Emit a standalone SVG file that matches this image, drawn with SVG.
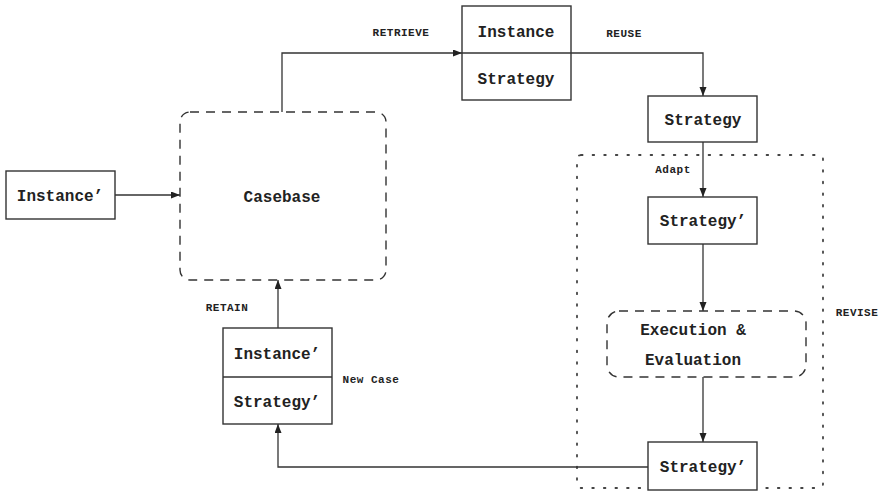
<svg xmlns="http://www.w3.org/2000/svg" width="881" height="499" viewBox="0 0 881 499">
<style>
.box{fill:#fff;stroke:#333;stroke-width:1.4}
.dash{fill:none;stroke:#333;stroke-width:1.4;stroke-dasharray:9 7}
.dot{fill:none;stroke:#444;stroke-width:1.8;stroke-dasharray:1.6 10;stroke-linecap:round}
.line{fill:none;stroke:#333;stroke-width:1.3}
.t{font-family:"Liberation Mono","DejaVu Sans Mono",monospace;font-weight:bold;font-size:16px;fill:#222;text-anchor:middle}
.l{font-family:"Liberation Mono","DejaVu Sans Mono",monospace;font-weight:bold;font-size:11px;letter-spacing:0.5px;fill:#222;text-anchor:middle}
</style>
<defs>
<marker id="arr" markerUnits="userSpaceOnUse" markerWidth="10" markerHeight="8" refX="9" refY="3.5" orient="auto">
<path d="M0,0 L9,3.5 L0,7 Z" fill="#222"/>
</marker>
</defs>
<rect fill="#fff" x="0" y="0" width="881" height="499"/>
<g id="revise-region">
<rect class="dot" x="577" y="155" width="246" height="333" rx="4"/>
<text class="l" x="857" y="316">REVISE</text>
</g>
<g id="connectors">
<path class="line" d="M115,195 H180" marker-end="url(#arr)"/>
<path class="line" d="M282,112 V53 H462" marker-end="url(#arr)"/>
<path class="line" d="M571,53 H703 V96" marker-end="url(#arr)"/>
<path class="line" d="M703,142 V197" marker-end="url(#arr)"/>
<path class="line" d="M703,244 V311" marker-end="url(#arr)"/>
<path class="line" d="M703,377 V442" marker-end="url(#arr)"/>
<path class="line" d="M648,467 H278 V424" marker-end="url(#arr)"/>
<path class="line" d="M278,328 V280" marker-end="url(#arr)"/>
<text class="l" x="401" y="36">RETRIEVE</text>
<text class="l" x="624" y="37">REUSE</text>
<text class="l" x="673" y="173">Adapt</text>
<text class="l" x="227" y="311">RETAIN</text>
<text class="l" x="371" y="383">New Case</text>
</g>
<g id="instance-prime">
<rect class="box" x="6" y="171" width="109" height="48"/>
<text class="t" x="60" y="201">Instance’</text>
</g>
<g id="casebase">
<rect class="dash" x="180" y="112" width="206" height="168" rx="10"/>
<text class="t" x="282" y="202">Casebase</text>
</g>
<g id="retrieved-case">
<rect class="box" x="462" y="6" width="109" height="94"/>
<line class="line" x1="462" y1="53" x2="571" y2="53"/>
<text class="t" x="516" y="37">Instance</text>
<text class="t" x="516" y="84">Strategy</text>
</g>
<g id="strategy">
<rect class="box" x="648" y="96" width="109" height="46"/>
<text class="t" x="703" y="125">Strategy</text>
</g>
<g id="strategy-prime">
<rect class="box" x="648" y="197" width="109" height="47"/>
<text class="t" x="703" y="226">Strategy’</text>
</g>
<g id="execution">
<rect class="dash" x="607" y="311" width="199" height="66" rx="12"/>
<text class="t" x="693" y="335">Execution &amp;</text>
<text class="t" x="693" y="365">Evaluation</text>
</g>
<g id="strategy-prime-revised">
<rect class="box" x="648" y="442" width="109" height="48"/>
<text class="t" x="703" y="472">Strategy’</text>
</g>
<g id="new-case">
<rect class="box" x="223" y="328" width="109" height="96"/>
<line class="line" x1="223" y1="377" x2="332" y2="377"/>
<text class="t" x="277" y="359">Instance’</text>
<text class="t" x="277" y="407">Strategy’</text>
</g>
</svg>
